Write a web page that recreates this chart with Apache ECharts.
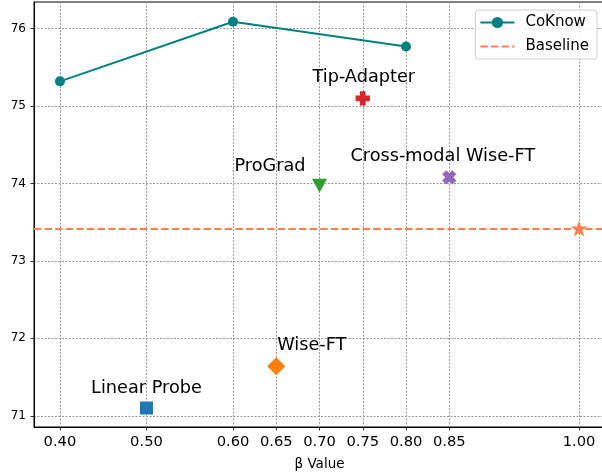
<!DOCTYPE html>
<html>
<head>
<meta charset="utf-8">
<script src="https://cdn.jsdelivr.net/npm/echarts@6/dist/echarts.min.js"></script>
<style>
html,body{margin:0;padding:0;background:#fff;}
#chart{width:602px;height:473px;}
</style>
</head>
<body>
<div id="chart"></div>
<script>
// ---- data ----
const xTicks = [0.40, 0.50, 0.60, 0.65, 0.70, 0.75, 0.80, 0.85, 1.00];
const yTicks = [71, 72, 73, 74, 75, 76];
const coknowBeta = [0.40, 0.60, 0.80];
const coknowAcc = [75.32, 76.09, 75.77];
const baselineAcc = 73.42;
const methodNames = ['Linear Probe', 'Wise-FT', 'ProGrad', 'Tip-Adapter', 'Cross-modal Wise-FT', 'Baseline'];
const methodBeta = [0.50, 0.65, 0.70, 0.75, 0.85, 1.00];
const methodAcc = [71.10, 71.64, 73.97, 75.10, 74.08, 73.42];

// ---- styles ----
const FONT = 'DejaVu Sans';
const plusPath = 'path://M-1.2,-3L1.2,-3L1.2,-1.2L3,-1.2L3,1.2L1.2,1.2L1.2,3L-1.2,3L-1.2,1.2L-3,1.2L-3,-1.2L-1.2,-1.2Z';
const starPath = 'path://M0,-1L0.2245,-0.309L0.9511,-0.309L0.3633,0.118L0.5878,0.809L0,0.382L-0.5878,0.809L-0.3633,0.118L-0.9511,-0.309L-0.2245,-0.309Z';
const dashIcon = 'path://M0,0H7.4V2H0Z M10.6,0H18V2H10.6Z M21.2,0H28.6V2H21.2Z M31.8,0H34V2H31.8Z';
const methodStyle = [
  {color: '#1f77b4', symbol: 'rect', size: 13, rotate: 0, label: {align: 'center', offset: [0, -19.8]}, showLabel: true},
  {color: '#ff7f0e', symbol: 'diamond', size: 18, rotate: 0, label: {align: 'left', offset: [1, -20.7]}, showLabel: true},
  {color: '#2ca02c', symbol: 'triangle', size: [15, 14], rotate: 180, label: {align: 'right', offset: [-14, -19.8]}, showLabel: true},
  {color: '#d62728', symbol: plusPath, size: 14.3, rotate: 0, label: {align: 'center', offset: [1, -20.5]}, showLabel: true},
  {color: '#9467bd', symbol: plusPath, size: 14.3, rotate: 45, label: {align: 'center', offset: [-6.5, -20.7]}, showLabel: true},
  {color: '#FF7F50', symbol: starPath, size: [17, 16], rotate: 0, label: {align: 'center', offset: [0, 0]}, showLabel: false}
];

const series = [
  {
    name: 'CoKnow',
    type: 'line',
    data: coknowBeta.map((b, i) => [b, coknowAcc[i]]),
    symbol: 'circle',
    symbolSize: 10,
    itemStyle: {color: '#008080'},
    lineStyle: {color: '#008080', width: 2},
    z: 3
  },
  {
    name: 'Baseline',
    type: 'line',
    data: [],
    symbol: 'none',
    itemStyle: {color: '#FF7F50'},
    lineStyle: {color: '#FF7F50', width: 2, type: [7.4, 3.2]},
    markLine: {
      silent: true,
      symbol: 'none',
      label: {show: false},
      lineStyle: {color: '#FF7F50', width: 2, type: [7.4, 3.2]},
      data: [{yAxis: baselineAcc}]
    },
    z: 2
  }
];

methodNames.forEach((name, i) => {
  const st = methodStyle[i];
  series.push({
    name: name,
    type: 'scatter',
    data: [[methodBeta[i], methodAcc[i]]],
    symbol: st.symbol,
    symbolSize: st.size,
    symbolRotate: st.rotate,
    itemStyle: {color: st.color, opacity: 1},
    label: {
      show: st.showLabel,
      formatter: name,
      position: 'inside',
      align: st.label.align,
      verticalAlign: 'middle',
      offset: st.label.offset,
      color: '#000',
      fontFamily: FONT,
      fontSize: 17.7
    },
    z: 4
  });
});

const chart = echarts.init(document.getElementById('chart'), null, {renderer: 'canvas'});
chart.setOption({
  animation: false,
  backgroundColor: '#fff',
  textStyle: {fontFamily: FONT},
  grid: {
    left: 34, top: 2, width: 571, height: 425,
    containLabel: false,
    outerBoundsMode: 'none',
    show: true, borderColor: '#000', borderWidth: 1, backgroundColor: 'transparent'
  },
  legend: {
    data: [{name: 'CoKnow'}, {name: 'Baseline', icon: dashIcon}],
    orient: 'vertical',
    right: 5,
    top: 10,
    itemWidth: 34,
    itemHeight: 14,
    itemGap: 9,
    padding: [5, 8, 5, 4],
    selectedMode: false,
    backgroundColor: 'rgba(255,255,255,0.85)',
    borderColor: '#d0d0d0',
    borderWidth: 1,
    borderRadius: 3,
    textStyle: {fontFamily: FONT, fontSize: 15, color: '#000', padding: [0, 0, 0, 6]}
  },
  xAxis: {
    type: 'value',
    min: 0.37,
    max: 1.03,
    name: 'β Value',
    nameLocation: 'middle',
    nameGap: 30,
    nameTextStyle: {fontFamily: FONT, fontSize: 13.5, color: '#000'},
    axisLine: {show: true, onZero: false, lineStyle: {color: '#000', width: 1}},
    axisTick: {show: true, length: 3.5, lineStyle: {color: '#000', width: 0.8}, customValues: xTicks},
    axisLabel: {
      customValues: xTicks,
      formatter: v => Number(v).toFixed(2),
      fontFamily: FONT, fontSize: 14.7, color: '#000', margin: 8
    },
    splitLine: {show: true, lineStyle: {color: '#999', width: 1, type: [2, 1.5]}}
  },
  yAxis: {
    type: 'value',
    min: 70.855,
    max: 76.345,
    axisLine: {show: true, onZero: false, lineStyle: {color: '#000', width: 1}},
    axisTick: {show: true, length: 3.5, lineStyle: {color: '#000', width: 0.8}, customValues: yTicks},
    axisLabel: {
      customValues: yTicks,
      formatter: v => String(Math.round(v)),
      fontFamily: FONT, fontSize: 12, color: '#000', margin: 8
    },
    splitLine: {show: true, lineStyle: {color: '#999', width: 1, type: [2, 1.5]}}
  },
  series: series
});
</script>
</body>
</html>
